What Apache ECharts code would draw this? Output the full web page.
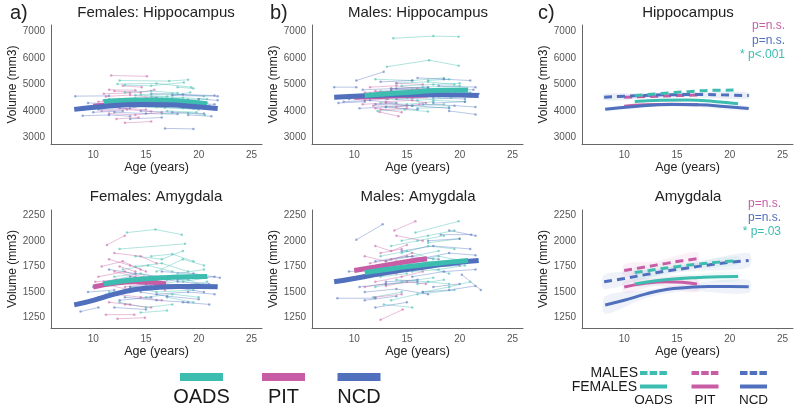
<!DOCTYPE html>
<html><head><meta charset="utf-8">
<script src="https://cdn.jsdelivr.net/npm/echarts@6/dist/echarts.min.js"></script>
<style>html,body{margin:0;padding:0;background:#fff}#c{width:800px;height:408px}</style>
</head><body><div id="c"></div>
<script>
// ---------- tick labels ----------
const xTickLabels = [10, 15, 20, 25];
const hippoTickLabels = [3000, 4000, 5000, 6000, 7000];
const amygTickLabels = [1250, 1500, 1750, 2000, 2250];

// ---------- group names ----------
const groups = ['OADS', 'PIT', 'NCD'];

// ---------- individual trajectories [age, vol, age, vol, ...] ----------
// Females: Hippocampus
const fHipOADS = [[12.5,5150,17.2,5130,19.0,5180],[12.3,5020,16.0,5040,19.3,4900],[13.0,4980,15.5,4950,18.6,5080],[14.5,4620,17.5,4650,20.5,4560],[11.5,4450,14.0,4500,16.5,4470],[15.0,4420,18.0,4380,20.8,4300],[13.5,4300,16.5,4350,19.5,4250],[16.0,4150,18.5,4100,20.0,4050],[12.0,4250,15.0,4200],[17.0,4000,19.8,3950],[14.0,4600,17.0,4550,19.2,4700],[16.5,3900,19.0,3920,20.6,3850],[13.0,4700,15.5,4750,18.0,4680],[15.5,4550,18.5,4500,20.8,4450],[12.5,4380,15.0,4330,17.8,4280],[17.5,4480,20.0,4420],[14.0,4150,16.8,4120,19.5,4080],[18.0,4900,19.5,4850]];
const fHipPIT = [[11.7,5340,15.1,5310],[12.0,4750,14.5,4700,15.8,4800],[11.2,4550,13.5,4600,16.0,4500],[10.5,4350,13.0,4400,15.5,4300],[12.5,4100,15.0,4050],[11.5,3900,14.0,3850,16.5,3950],[12.2,3700,14.3,3750],[13.0,3550,15.5,3600],[11.0,4200,13.8,4150,16.2,4250],[12.8,4950,14.6,4900],[11.0,4650,13.5,4680],[12.5,4450,15.0,4480,16.8,4400],[10.8,4000,13.2,4050,15.5,3980],[13.5,4250,16.0,4300],[11.5,4800,14.0,4780]];
const fHipNCD = [[8.3,4560,11.5,4570],[17.5,4580,21.8,4560],[9.5,4300,12.0,4280,14.5,4350],[13.0,4450,16.0,4480,19.0,4420],[16.8,3340,19.5,3320],[9.0,3820,11.5,3850,13.5,3800],[14.5,4000,17.5,3950,20.5,3900],[18.0,4250,21.0,4200],[10.5,4050,13.5,4100],[15.5,4650,18.5,4620,21.5,4580],[12.0,3950,15.0,3900,18.0,3880],[19.0,3850,21.2,3800],[9.0,4150,11.8,4180],[11.0,4400,14.0,4420,17.0,4380],[16.0,4300,19.5,4280,21.5,4250],[13.5,3700,16.5,3750],[20.0,4450,21.8,4400],[10.0,3950,12.8,4000]];
// Males: Hippocampus
const mHipOADS = [[13.7,6750,17.5,6830,19.9,6810],[13.1,5670,17.1,5920,19.9,5710],[12.0,5200,15.5,5150,18.5,5250],[14.0,5050,17.0,5100,19.5,5000],[13.5,4850,16.5,4900,20.0,4950],[11.5,4650,14.5,4700,17.5,4750],[15.0,4500,18.0,4550,20.5,4600],[12.5,4300,15.0,4250,17.5,4350],[16.0,4100,19.0,4150],[13.0,4450,16.0,4400,19.2,4500],[17.0,5150,19.0,5200],[12.2,4000,14.8,4050,17.0,3980],[14.5,4950,17.5,5000,20.0,5050],[12.5,4750,15.5,4800,18.0,4700],[16.0,4600,19.0,4650,21.0,4700],[13.0,4150,15.5,4200,18.5,4250],[17.5,4400,20.5,4350],[11.8,4550,14.2,4600]];
const mHipPIT = [[12.4,3960,14.2,3800],[11.5,4900,14.0,4950,16.0,4850],[12.0,4750,14.5,4700],[10.5,4550,13.0,4600,15.5,4500],[13.0,4350,15.5,4400,16.8,4300],[11.8,4200,14.0,4150,16.2,4250],[12.5,4050,15.0,4100],[14.0,5050,16.5,5000],[11.0,4400,13.2,4450],[11.0,4700,13.5,4750,15.8,4650],[12.8,4600,15.5,4650],[10.8,4250,13.0,4300,15.0,4200],[13.5,4850,16.2,4800],[12.0,4100,14.5,3950]];
const mHipNCD = [[10.2,5150,12.8,5480],[8.1,4900,10.2,4900],[19.0,4000,21.5,3870],[9.0,4350,11.5,4400,14.0,4300],[16.0,5250,18.5,5200,21.0,5150],[13.5,4800,17.0,4850,21.3,4800],[10.5,4100,13.0,4150,16.0,4050],[15.0,4600,18.0,4650,21.0,4550],[17.5,4300,20.5,4350],[11.5,4650,14.5,4600],[18.0,4950,21.5,4900],[12.0,4250,15.5,4200,19.0,4100],[9.5,4600,12.0,4550],[8.5,4300,11.0,4350],[10.8,4800,14.0,4850,17.0,4900],[14.0,4450,17.5,4500,20.5,4450],[16.5,4250,19.5,4200,21.5,4150],[12.5,5100,15.5,5150],[19.5,4700,21.8,4650],[9.5,4450,12.5,4500]];
// Females: Amygdala
const fAmyOADS = [[13.2,2080,15.9,2110,18.4,2060],[12.5,1920,18.7,1970],[15.5,1850,17.5,1870,19.5,1800],[14.0,1750,16.5,1780,19.0,1700],[16.0,1700,18.5,1820,20.5,1760],[12.0,1650,14.5,1680,17.0,1620],[15.0,1600,18.0,1560,20.8,1600],[13.5,1550,16.0,1500,19.5,1520],[17.0,1450,19.5,1400],[12.5,1400,15.0,1350,17.5,1380],[14.5,1300,17.0,1320],[18.0,1680,20.5,1720],[11.5,1500,14.0,1520],[14.0,1850,16.5,1820,18.5,1900],[16.5,1580,19.0,1620,20.5,1560],[12.8,1720,15.2,1760,17.5,1700],[15.0,1450,17.5,1480,20.0,1450],[18.5,1600,20.8,1640],[13.0,1600,15.5,1560]];
const fAmyPIT = [[11.3,1960,13.0,2050],[12.0,1880,14.5,1850,16.0,1780],[11.5,1820,13.5,1760,15.0,1700],[12.5,1750,14.0,1700],[10.5,1650,13.0,1700,15.5,1620],[11.0,1580,13.5,1520],[12.0,1480,14.5,1450,16.5,1420],[11.2,1280,13.9,1280],[12.3,1240,14.9,1250],[13.0,1380,15.5,1350],[12.8,1620,14.8,1650],[10.8,1750,12.8,1800,14.5,1720],[12.0,1700,14.0,1650,16.0,1600],[11.5,1400,13.5,1380],[13.0,1550,15.0,1580,16.8,1520],[10.2,1600,12.2,1620]];
const fAmyNCD = [[9.2,1410,11.2,1475],[8.8,1310,10.5,1350],[10.0,1550,12.5,1600],[11.5,1720,14.0,1680,16.5,1650],[13.0,1450,16.0,1420,19.0,1400],[15.0,1580,18.0,1620,21.5,1650],[17.5,1550,20.5,1500],[12.0,1350,15.0,1330],[16.5,1700,19.5,1680,22.0,1640],[14.5,1500,17.0,1460,20.0,1430],[10.5,1450,13.5,1500],[18.5,1400,21.0,1380],[9.5,1500,12.0,1520],[11.0,1600,13.5,1650,16.0,1620],[13.5,1550,16.5,1580,19.5,1560],[16.0,1480,19.0,1500,21.5,1480],[12.5,1420,15.5,1450],[18.0,1600,21.0,1580]];
// Males: Amygdala
const mAmyOADS = [[15.8,2080,19.9,2190],[13.5,1950,16.0,2000,18.5,2050],[14.5,1880,17.0,1950,19.5,1920],[12.5,1850,15.0,1900,17.5,1820],[15.0,1780,18.0,1850,20.5,1800],[13.0,1700,16.5,1750,19.0,1680],[14.0,1620,17.0,1600,19.0,1580],[12.0,1550,14.5,1600,17.5,1640],[13.5,1420,16.0,1480,19.5,1520],[12.8,1380,15.5,1350],[16.5,1500,19.0,1550,21.0,1600],[11.5,1650,14.0,1720],[17.0,1980,20.0,2020],[13.0,1800,15.5,1850,18.0,1900],[14.0,1750,16.5,1800,19.0,1780],[15.5,1700,18.0,1720,20.5,1760],[12.5,1650,15.0,1680],[16.0,1580,18.5,1620],[11.8,1450,14.5,1500],[14.5,2000,17.0,2050,19.5,2100]];
const mAmyPIT = [[13.8,2100,15.8,2190],[12.5,1230,14.6,1330],[12.0,1950,13.5,1900,15.0,1960],[11.0,1850,13.0,1800,15.5,1880],[12.5,1750,14.0,1800,16.5,1760],[11.5,1650,14.0,1680],[13.0,1560,15.0,1600,16.8,1580],[12.0,1450,14.5,1480],[10.5,1720,12.5,1700],[14.0,2050,16.5,2000],[11.5,1780,13.5,1820,15.5,1850],[12.0,1600,14.5,1650,16.5,1700],[13.0,1680,15.0,1720],[11.0,1550,13.0,1580],[12.5,1880,14.5,1920]];
const mAmyNCD = [[10.2,2010,12.7,2160],[18.2,2060,21.1,2060],[8.4,1440,12.0,1440],[20.2,1670,22.0,1520],[9.0,1600,11.0,1640],[11.0,1500,14.0,1530,17.0,1480],[14.5,1900,17.5,1950,21.0,1920],[16.0,1820,19.0,1880,21.5,1860],[12.0,1350,15.0,1400],[15.5,1650,18.5,1700,21.5,1720],[17.5,1550,20.0,1580],[13.0,1600,16.0,1620],[19.0,2100,21.5,2050],[9.5,1700,12.0,1720],[10.5,1550,13.0,1580,16.0,1600],[12.0,1800,15.0,1850,18.0,1820],[14.0,1700,17.0,1740,20.0,1760],[16.5,1500,19.0,1520,21.5,1560],[11.0,1420,14.0,1460],[17.0,2000,20.0,2020]];

// ---------- fitted curves [age, vol] ----------
const fHipFitOADS = [[11,4360],[13.5,4400],[16,4410],[18.5,4360],[20.8,4270]];
const fHipFitPIT  = [[10,4180],[12,4230],[14.5,4250],[17,4230]];
const fHipFitNCD  = [[8.2,4060],[11,4170],[14.5,4240],[17,4230],[19.5,4170],[21.8,4090]];
const mHipFitOADS = [[11,4580],[13.5,4660],[16,4730],[18.5,4780],[20.8,4790]];
const mHipFitPIT  = [[10,4520],[12.5,4550],[15,4580],[17,4600]];
const mHipFitNCD  = [[8.1,4520],[11,4570],[14,4610],[17,4620],[20,4600],[21.8,4580]];
const fAmyFitOADS = [[11,1580],[13,1610],[15,1630],[17,1642],[19,1650],[20.8,1652]];
const fAmyFitPIT  = [[10,1550],[12,1585],[14,1600],[15.5,1595],[16.9,1578]];
const fAmyFitNCD  = [[8.2,1375],[10,1420],[12,1480],[14,1525],[16,1545],[18,1555],[20,1555],[21.8,1552]];
const mAmyFitOADS = [[11,1690],[13,1720],[15,1748],[17,1772],[19,1792],[20.8,1808]];
const mAmyFitPIT  = [[10,1710],[12,1745],[14,1780],[15.5,1805],[16.9,1825]];
const mAmyFitNCD  = [[8.1,1600],[10,1632],[12,1670],[14,1705],[16,1735],[18,1765],[20,1790],[21.8,1808]];

// ---------- confidence bands [age, low, high] (panel c) ----------
const hipBandMaleNCD   = [[8.1,4400,4640],[12,4470,4660],[16,4520,4710],[21.8,4460,4700]];
const hipBandFemaleNCD = [[8.2,3980,4150],[12,4120,4280],[16,4170,4310],[21.8,3990,4200]];
const amyBandMaleNCD   = [[8.1,1530,1670],[12,1630,1710],[16,1700,1770],[21.8,1740,1880]];
const amyBandMalePIT   = [[10,1650,1770],[13,1710,1800],[16.9,1760,1890]];
const amyBandMaleOADS  = [[11,1640,1740],[16,1720,1790],[20.8,1770,1850]];
const amyBandFemaleNCD = [[8.2,1290,1460],[12,1440,1520],[16,1510,1580],[21.8,1490,1620]];
const amyBandFemalePIT = [[10,1490,1610],[13,1560,1640],[16.9,1500,1650]];
const amyBandFemaleOADS= [[11,1550,1650],[16,1600,1670],[20.8,1610,1700]];

// ---------- p-values ----------
const hipPvals = ['p=n.s.', 'p=n.s.', '* p<.001'];
const amyPvals = ['p=n.s.', 'p=n.s.', '* p=.03'];

// ---------- build ----------
const COL = {OADS:'#3dbcb0', PIT:'#c85da6', NCD:'#5070bd'};
const FONT = '"Liberation Sans", Arial, Helvetica, sans-serif';
const chart = echarts.init(document.getElementById('c'), null, {renderer:'canvas'});

const lefts = [51, 312, 582];
const grids = [], xAxes = [], yAxes = [], series = [];
for (let r = 0; r < 2; r++) {
  for (let c = 0; c < 3; c++) {
    grids.push({left: lefts[c], top: r === 0 ? 25 : 210, width: 211, height: r === 0 ? 119 : 118, containLabel:false});
    xAxes.push({type:'value', gridIndex: grids.length-1, min:6, max:26, interval:1,
      axisLine:{show:true, lineStyle:{color:'#666', width:1}}, axisTick:{show:false}, splitLine:{show:false},
      axisLabel:{color:'#555', fontSize:10, fontFamily:FONT, margin:6, formatter:v => xTickLabels.includes(v) ? String(v) : ''},
      name:'Age (years)', nameLocation:'middle', nameGap:17, nameTextStyle:{color:'#222', fontSize:12.5, fontFamily:FONT, verticalAlign:'top'}});
    const ticks = r === 0 ? hippoTickLabels : amygTickLabels;
    yAxes.push({type:'value', gridIndex: grids.length-1,
      min: r === 0 ? 2750 : 1150, max: r === 0 ? 7250 : 2300, interval: r === 0 ? 250 : 50,
      axisLine:{show:true, lineStyle:{color:'#666', width:1}}, axisTick:{show:false}, splitLine:{show:false},
      axisLabel:{color:'#555', fontSize:10, fontFamily:FONT, margin:6, formatter:v => ticks.includes(v) ? String(v) : ''},
      name:'Volume (mm3)', nameLocation:'middle', nameGap:31, nameTextStyle:{color:'#222', fontSize:12, fontFamily:FONT}});
  }
}

function addTraj(list, g, idx) {
  list.forEach(t => {
    const pts = [];
    for (let i = 0; i < t.length; i += 2) pts.push([t[i], t[i+1]]);
    series.push({type:'line', xAxisIndex:idx, yAxisIndex:idx, data:pts, silent:true, animation:false, z:1,
      symbol:'circle', symbolSize:2.5, itemStyle:{color:COL[g], opacity:0.55},
      lineStyle:{color:COL[g], width:0.8, opacity:0.5}});
  });
}
function addFit(data, g, idx, width, dashed) {
  series.push({type:'line', xAxisIndex:idx, yAxisIndex:idx, data:data, smooth:0.5, showSymbol:false, silent:true, animation:false, z:3,
    lineStyle:{color:COL[g], width:width, type: dashed ? [8,5] : 'solid', cap:'butt'}});
}
function addBand(band, g, idx, alpha) {
  series.push({type:'custom', xAxisIndex:idx, yAxisIndex:idx, data:band, silent:true, animation:false, z:2,
    encode:{x:0, y:[1,2]},
    renderItem:(params, api) => {
      if (params.dataIndex !== 0) return null;
      const up = band.map(d => api.coord([d[0], d[2]]));
      const lo = band.slice().reverse().map(d => api.coord([d[0], d[1]]));
      return {type:'polygon', shape:{points: up.concat(lo), smooth:0.3}, style:{fill: echarts.color.modifyAlpha(COL[g], alpha)}};
    }});
}

// panel a top (0), b top (1), c top (2), a bottom (3), b bottom (4), c bottom (5)
addTraj(fHipOADS,'OADS',0); addTraj(fHipPIT,'PIT',0); addTraj(fHipNCD,'NCD',0);
addTraj(mHipOADS,'OADS',1); addTraj(mHipPIT,'PIT',1); addTraj(mHipNCD,'NCD',1);
addTraj(fAmyOADS,'OADS',3); addTraj(fAmyPIT,'PIT',3); addTraj(fAmyNCD,'NCD',3);
addTraj(mAmyOADS,'OADS',4); addTraj(mAmyPIT,'PIT',4); addTraj(mAmyNCD,'NCD',4);

addFit(fHipFitPIT,'PIT',0,5); addFit(fHipFitOADS,'OADS',0,5); addFit(fHipFitNCD,'NCD',0,5);
addFit(mHipFitPIT,'PIT',1,5); addFit(mHipFitNCD,'NCD',1,5); addFit(mHipFitOADS,'OADS',1,5);
addFit(fAmyFitPIT,'PIT',3,5); addFit(fAmyFitNCD,'NCD',3,5); addFit(fAmyFitOADS,'OADS',3,5);
addFit(mAmyFitPIT,'PIT',4,5); addFit(mAmyFitNCD,'NCD',4,5); addFit(mAmyFitOADS,'OADS',4,5);

addBand(hipBandMaleNCD,'NCD',2,0.12); addBand(hipBandFemaleNCD,'NCD',2,0.06);
addBand(amyBandMaleNCD,'NCD',5,0.09); addBand(amyBandMalePIT,'PIT',5,0.09); addBand(amyBandMaleOADS,'OADS',5,0.07);
addBand(amyBandFemaleNCD,'NCD',5,0.09); addBand(amyBandFemalePIT,'PIT',5,0.09); addBand(amyBandFemaleOADS,'OADS',5,0.07);

addFit(fHipFitPIT,'PIT',2,3); addFit(fHipFitOADS,'OADS',2,3); addFit(fHipFitNCD,'NCD',2,3);
addFit(mHipFitPIT,'PIT',2,3,true); addFit(mHipFitNCD,'NCD',2,3,true); addFit(mHipFitOADS,'OADS',2,3,true);
addFit(fAmyFitPIT,'PIT',5,3); addFit(fAmyFitOADS,'OADS',5,3); addFit(fAmyFitNCD,'NCD',5,3);
addFit(mAmyFitPIT,'PIT',5,3,true); addFit(mAmyFitNCD,'NCD',5,3,true); addFit(mAmyFitOADS,'OADS',5,3,true);

// ---------- text & legend graphics ----------
function txt(s, x, y, size, color, align) {
  return {type:'text', x:x, y:y, silent:true, z:10, style:{text:s, font: size + 'px ' + FONT, fill:color || '#222', align: align || 'center', verticalAlign:'middle'}};
}
const gfx = [
  txt('a)', 10, 13, 20, '#222', 'left'), txt('b)', 270, 13, 20, '#222', 'left'), txt('c)', 538, 13, 20, '#222', 'left'),
  txt('Females: Hippocampus', 156, 13, 15), txt('Males: Hippocampus', 418, 13, 15), txt('Hippocampus', 688, 13, 15),
  txt('Females: Amygdala', 156, 197, 15), txt('Males: Amygdala', 418, 197, 15), txt('Amygdala', 688, 197, 15),
  txt(hipPvals[0], 785, 26, 12, COL.PIT, 'right'), txt(hipPvals[1], 785, 41, 12, COL.NCD, 'right'), txt(hipPvals[2], 785, 55, 12, COL.OADS, 'right'),
  txt(amyPvals[0], 781, 204, 12, COL.PIT, 'right'), txt(amyPvals[1], 781, 218, 12, COL.NCD, 'right'), txt(amyPvals[2], 781, 232, 12, COL.OADS, 'right')
];
// left legend
const legX = [201.5, 283.5, 359];
groups.forEach((g, i) => {
  gfx.push({type:'rect', shape:{x:legX[i]-21.5, y:373, width:43, height:8}, style:{fill:COL[g]}, silent:true});
  gfx.push(txt(g, legX[i], 397, 20, '#1a1a1a'));
});
// right legend
const rlegX = [653.5, 705, 753.5];
gfx.push(txt('MALES', 638, 373, 14, '#1a1a1a', 'right'));
gfx.push(txt('FEMALES', 637, 387, 14, '#1a1a1a', 'right'));
groups.forEach((g, i) => {
  gfx.push({type:'line', shape:{x1:rlegX[i]-13.5, y1:373, x2:rlegX[i]+13.5, y2:373}, style:{stroke:COL[g], lineWidth:4, lineDash:[7.5,2.2]}, silent:true});
  gfx.push({type:'line', shape:{x1:rlegX[i]-13.5, y1:386.5, x2:rlegX[i]+13.5, y2:386.5}, style:{stroke:COL[g], lineWidth:4}, silent:true});
  gfx.push(txt(g, rlegX[i], 400, 13.5, '#1a1a1a'));
});

chart.setOption({
  animation:false,
  backgroundColor:'#ffffff',
  textStyle:{fontFamily:FONT},
  grid:grids, xAxis:xAxes, yAxis:yAxes, series:series, graphic:gfx
});
</script></body></html>
